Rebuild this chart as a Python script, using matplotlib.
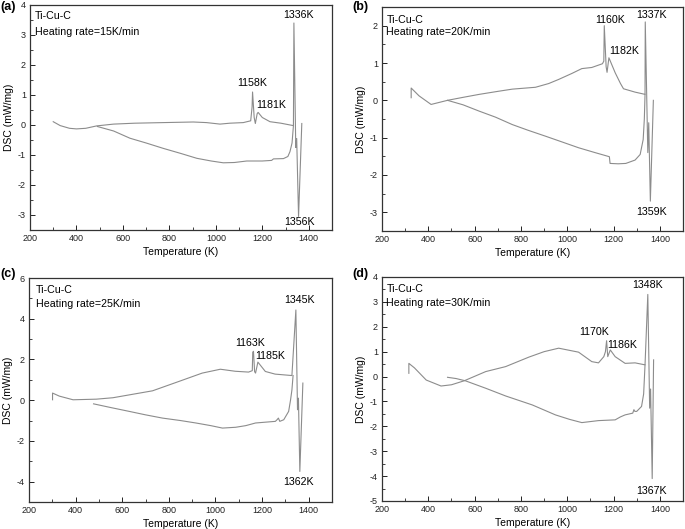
import matplotlib
matplotlib.use("Agg")
import matplotlib.pyplot as plt
from matplotlib.ticker import MultipleLocator

plt.rcParams['font.family'] = ['Liberation Sans', 'DejaVu Sans']
plt.rcParams['axes.unicode_minus'] = False

# ---------------- data ----------------
# (a) 15 K/min
a_heat_T = [300, 330, 370, 400, 440, 487, 560, 650, 773, 903, 960, 1018, 1060, 1118, 1150, 1156, 1158,
            1165, 1170, 1178, 1182, 1200, 1233, 1280, 1320, 1334, 1336, 1344, 1348, 1356, 1370]
a_heat_v = [0.11, -0.02, -0.11, -0.13, -0.11, -0.03, 0.03, 0.06, 0.08, 0.10, 0.08, 0.03, 0.06, 0.08, 0.14, 0.6, 1.1,
            0.25, 0.05, 0.38, 0.42, 0.25, 0.11, 0.06, 0.0, -0.02, 3.4, -0.75, -0.45, -3.05, 0.05]
a_cool_T = [490, 560, 630, 700, 774, 850, 918, 980, 1032, 1080, 1133, 1200, 1240, 1248, 1291, 1310, 1319, 1328, 1334]
a_cool_v = [-0.05, -0.2, -0.44, -0.6, -0.78, -0.95, -1.11, -1.2, -1.26, -1.25, -1.2, -1.2, -1.18, -1.13, -1.12,
            -1.05, -0.89, -0.6, -0.02]

# (b) 20 K/min
b_heat_T = [326, 326, 360, 412, 483, 550, 620, 700, 763, 863, 920, 963, 1020, 1063, 1106, 1152, 1158, 1160,
            1168, 1172, 1180, 1207, 1230, 1243, 1293, 1336, 1337, 1348, 1352, 1359, 1372]
b_heat_v = [0.07, 0.33, 0.12, -0.11, 0.0, 0.08, 0.16, 0.24, 0.30, 0.35, 0.45, 0.56, 0.72, 0.85, 0.88, 0.98, 1.05, 2.0,
            0.9, 0.75, 1.14, 0.74, 0.45, 0.31, 0.22, 0.16, 2.1, -1.4, -0.6, -2.7, 0.0]
b_cool_T = [483, 550, 620, 690, 763, 830, 906, 980, 1049, 1120, 1182, 1185, 1220, 1253, 1293, 1315, 1328, 1333, 1336]
b_cool_v = [0.0, -0.12, -0.29, -0.45, -0.65, -0.8, -0.96, -1.12, -1.27, -1.4, -1.51, -1.69, -1.7, -1.69, -1.6,
            -1.45, -1.05, -0.5, 0.16]

# (c) 25 K/min
c_heat_T = [301, 301, 330, 389, 489, 560, 630, 730, 843, 943, 1021, 1085, 1142, 1158, 1160, 1163, 1168, 1172,
            1182, 1214, 1256, 1328, 1345, 1352, 1356, 1362, 1375]
c_heat_v = [0.02, 0.35, 0.2, 0.02, 0.05, 0.12, 0.26, 0.46, 0.92, 1.33, 1.52, 1.42, 1.38, 1.45, 2.35, 2.4, 1.4, 1.33,
            1.87, 1.41, 1.28, 1.21, 4.43, -0.47, 0.1, -3.5, 0.84]
c_cool_T = [477, 550, 630, 700, 773, 850, 916, 980, 1030, 1087, 1130, 1172, 1257, 1265, 1270, 1276, 1293, 1314,
            1322, 1328, 1333]
c_cool_v = [-0.18, -0.36, -0.55, -0.72, -0.88, -1.0, -1.12, -1.25, -1.37, -1.33, -1.25, -1.12, -1.04, -0.95, -0.88,
            -1.04, -0.96, -0.55, 0.0, 0.5, 1.21]

# (d) 30 K/min
d_heat_T = [316, 316, 340, 391, 455, 500, 555, 648, 734, 834, 900, 963, 1049, 1106, 1135, 1158, 1165, 1170, 1175,
            1186, 1207, 1250, 1293, 1336, 1348, 1356, 1360, 1367, 1373]
d_heat_v = [0.13, 0.53, 0.35, -0.14, -0.38, -0.33, -0.17, 0.2, 0.4, 0.78, 1.0, 1.14, 0.98, 0.6, 0.55, 0.8, 1.0, 1.44,
            0.8, 1.07, 0.8, 0.53, 0.55, 0.47, 3.3, -1.27, -0.5, -4.1, 0.67]
d_cool_T = [483, 520, 560, 648, 734, 849, 949, 1010, 1063, 1135, 1207, 1230, 1250, 1283, 1288, 1292, 1300, 1321,
            1330, 1336]
d_cool_v = [-0.03, -0.08, -0.17, -0.47, -0.78, -1.14, -1.54, -1.72, -1.85, -1.77, -1.74, -1.62, -1.54, -1.47, -1.33,
            -1.4, -1.4, -1.2, -0.7, 0.47]

panel_letters = ["(a)", "(b)", "(c)", "(d)"]
rates = ["Heating rate=15K/min", "Heating rate=20K/min", "Heating rate=25K/min", "Heating rate=30K/min"]
peak_labels = [["1158K", "1181K", "1336K", "1356K"],
               ["1160K", "1182K", "1337K", "1359K"],
               ["1163K", "1185K", "1345K", "1362K"],
               ["1170K", "1186K", "1348K", "1367K"]]
y_limits = [(-3.5, 4), (-3.5, 2.5), (-5, 6), (-5, 4)]
y_major = [1, 1, 2, 1]

# ---------------- layout ----------------
W, H = 685, 529
fig = plt.figure(figsize=(W / 100, H / 100), dpi=100)

def px_axes(left, right, top, bottom):
    return fig.add_axes([left / W, 1 - bottom / H, (right - left) / W, (bottom - top) / H])

boxes = [(30, 332, 5, 230), (382, 683, 7, 231), (29, 332, 278, 502), (382, 683, 277, 501)]
heats = [(a_heat_T, a_heat_v), (b_heat_T, b_heat_v), (c_heat_T, c_heat_v), (d_heat_T, d_heat_v)]
cools = [(a_cool_T, a_cool_v), (b_cool_T, b_cool_v), (c_cool_T, c_cool_v), (d_cool_T, d_cool_v)]

# label positions (data coords, centre)
label_pos = [[(1156, 1.41), (1238, 0.67), (1358, 3.67), (1362, -3.22)],
             [(1185, 2.14), (1246, 1.31), (1363, 2.29), (1365, -2.99)],
             [(1147, 2.81), (1235, 2.16), (1359, 4.94), (1355, -4.03)],
             [(1117, 1.79), (1236, 1.28), (1346, 3.67), (1365, -4.61)]]
title_pos = [(221, 3.63, 3.11), (219, 2.16, 1.83), (230, 5.4, 4.74), (219, 3.5, 2.97)]
letter_px = [(0, 7), (352, 7), (0, 274), (352, 274)]

line_col = '#8c8c8c'
for i in range(4):
    ax = px_axes(*boxes[i])
    ax.plot(heats[i][0], heats[i][1], color=line_col, lw=0.8)
    ax.plot(cools[i][0], cools[i][1], color=line_col, lw=0.8)
    ax.set_xlim(200, 1500)
    ax.set_ylim(*y_limits[i])
    ax.xaxis.set_major_locator(MultipleLocator(200))
    ax.xaxis.set_minor_locator(MultipleLocator(100))
    ax.yaxis.set_major_locator(MultipleLocator(y_major[i]))
    ax.yaxis.set_minor_locator(MultipleLocator(y_major[i] / 2))
    ax.set_xticks([200, 400, 600, 800, 1000, 1200, 1400])
    ax.tick_params(which='both', direction='in', top=False, right=False, labelsize=6.5, colors='#222222',
                   pad=3)
    ax.tick_params(which='major', length=3.5, width=0.7)
    ax.tick_params(which='minor', length=2, width=0.6)
    for s in ax.spines.values():
        s.set_linewidth(0.9)
        s.set_color('#333333')
    ax.set_xlabel("Temperature (K)", fontsize=7.5, labelpad=3)
    ax.set_ylabel("DSC (mW/mg)", fontsize=7.5, labelpad=3)
    tx, ty1, ty2 = title_pos[i]
    ax.text(tx, ty1, "Ti-Cu-C", fontsize=7.7, ha='left', va='center')
    ax.text(tx, ty2, rates[i], fontsize=7.7, ha='left', va='center')
    for lab, (lx, ly) in zip(peak_labels[i], label_pos[i]):
        ax.text(lx, ly, lab, fontsize=7.7, ha='center', va='center')
    lx, ly = letter_px[i]
    fig.text(lx / W, 1 - ly / H, panel_letters[i], fontsize=9, fontweight='bold', ha='left', va='center')

fig.savefig("out.png", dpi=100)
